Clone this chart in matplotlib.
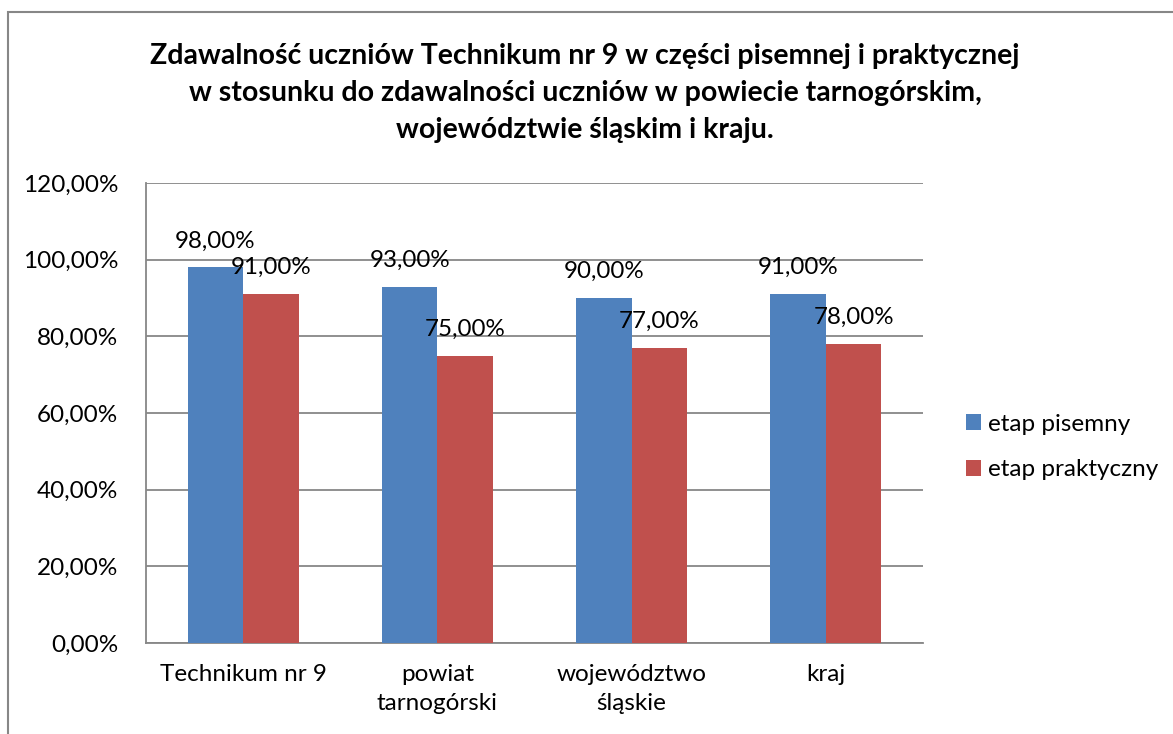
import numpy as np
import matplotlib.pyplot as plt
from matplotlib.patches import Rectangle
from matplotlib.ticker import FuncFormatter

plt.rcParams['font.family'] = ['Lato', 'DejaVu Sans']

# data
categories = ["Technikum nr 9", "powiat\ntarnogórski", "województwo\nśląskie", "kraj"]
pisemny = [0.98, 0.93, 0.90, 0.91]
praktyczny = [0.91, 0.75, 0.77, 0.78]
series_names = ["etap pisemny", "etap praktyczny"]
title = ("Zdawalność uczniów Technikum nr 9 w części pisemnej i praktycznej\n"
         "w stosunku do zdawalności uczniów w powiecie tarnogórskim,\n"
         "województwie śląskim i kraju.")

def pct(v, pos=None):
    return ("%.2f%%" % (v * 100)).replace(".", ",")

fig = plt.figure(figsize=(11.73, 7.34), dpi=100)
ax = fig.add_axes([146/1173, 1 - 643/734, (923-146)/1173, (643-183)/734])

# outer chart border
fig.patches.append(Rectangle((8/1173, -0.05), 1.2, 1 - 12/734 + 0.05,
                             transform=fig.transFigure, fill=False,
                             edgecolor="#878787", linewidth=1.5))

x = np.arange(len(categories))
w = 1 / 3.5
blue = "#4f81bd"
red = "#c0504d"
b1 = ax.bar(x - w/2, pisemny, w, color=blue, label=series_names[0], zorder=3)
b2 = ax.bar(x + w/2, praktyczny, w, color=red, label=series_names[1], zorder=3)

for bars, vals in [(b1, pisemny), (b2, praktyczny)]:
    for r, v in zip(bars, vals):
        ax.annotate(pct(v), (r.get_x() + r.get_width()/2, v),
                    xytext=(0, 19), textcoords="offset points",
                    ha="center", va="center", fontsize=17.4, zorder=4)

ax.set_xlim(-0.5, len(categories) - 0.5)
ax.set_ylim(0, 1.2)
ax.set_yticks(np.arange(0, 1.21, 0.2))
ax.yaxis.set_major_formatter(FuncFormatter(pct))
ax.set_xticks(x)
ax.set_xticklabels(categories, linespacing=1.5)
ax.tick_params(axis="both", length=0, labelsize=17.5)
ax.tick_params(axis="y", pad=20)
ax.tick_params(axis="x", pad=15)
ax.grid(axis="y", color="#878787", linewidth=1.3, zorder=0)

for s in ["top", "right"]:
    ax.spines[s].set_visible(False)
for s in ["left", "bottom"]:
    ax.spines[s].set_color("#878787")
    ax.spines[s].set_linewidth(1.3)

fig.text(585/1173, 1 - 93/734, title, ha="center", va="center",
         fontsize=20.5, fontweight="bold", linespacing=1.52)

ax.legend(loc="center left", bbox_to_anchor=(1.027, 0.426), frameon=False,
          fontsize=17.5, handlelength=0.62, handleheight=0.62,
          handletextpad=0.3, labelspacing=1.0)

fig.savefig("out.png", dpi=100)
